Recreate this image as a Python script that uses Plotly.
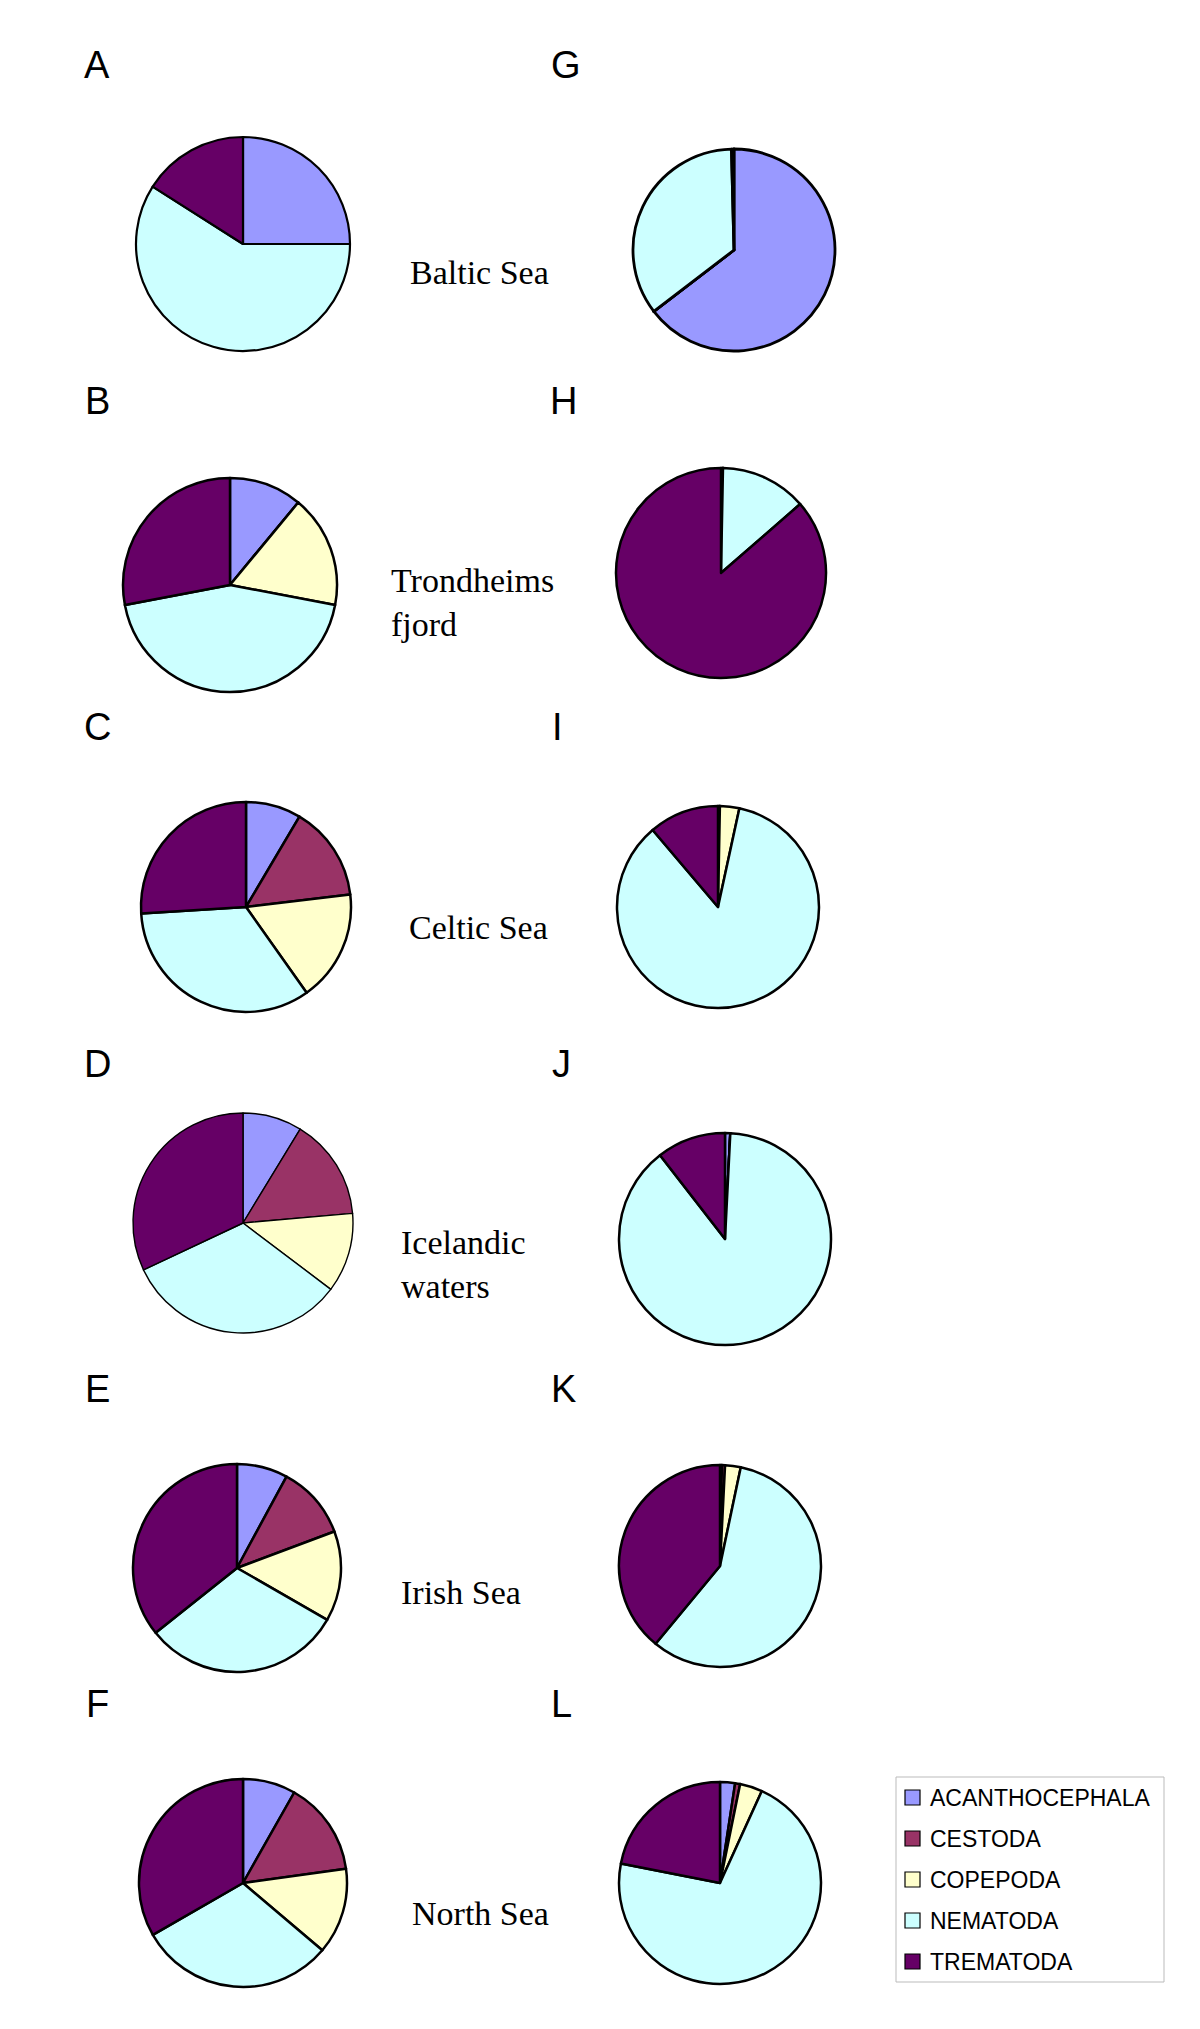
import plotly.graph_objects as go

W, H = 1200, 2029
OFF = 8  # page body margin

categories = ["ACANTHOCEPHALA", "CESTODA", "COPEPODA", "NEMATODA", "TREMATODA"]
colors = ["#9999FF", "#993366", "#FFFFCC", "#CCFFFF", "#660066"]

panel_letters = ["A", "B", "C", "D", "E", "F", "G", "H", "I", "J", "K", "L"]
regions = ["Baltic Sea", "Trondheims<br>fjord", "Celtic Sea", "Icelandic<br>waters", "Irish Sea", "North Sea"]

# percentage composition, clockwise from 12 o'clock, order = categories
A = [25.0, 0.0, 0.0, 59.0, 16.0]
B = [11.0, 0.0, 17.0, 44.0, 28.0]
C = [8.5, 14.6, 17.1, 33.8, 26.0]
D = [8.7, 14.9, 11.7, 32.7, 32.0]
E = [7.9, 11.4, 14.0, 31.0, 35.7]
F = [8.2, 14.6, 13.4, 30.5, 33.3]
G = [64.6, 0.0, 0.0, 35.0, 0.4]
Hh = [0.3, 0.0, 0.0, 13.3, 86.4]
I = [0.3, 0.0, 3.1, 85.4, 11.2]
J = [0.8, 0.0, 0.0, 88.7, 10.5]
K = [0.3, 0.5, 2.5, 57.7, 39.0]
L = [2.4, 0.8, 3.6, 71.3, 21.9]

values = [A, B, C, D, E, F, G, Hh, I, J, K, L]

# layout (pixel positions of pie centres, radii, line widths)
centers = [(243, 244), (230, 585), (246, 907), (243, 1223), (237, 1568), (243, 1883),
           (734, 250), (721, 573), (718, 907), (725, 1239), (720, 1566), (720, 1883)]
radii = [107, 107, 105, 110, 104, 104, 101, 105, 101, 106, 101, 101]
lws = [2.2, 2.5, 2.5, 1.4, 2.5, 2.5, 2.8, 2.5, 2.5, 2.5, 2.5, 2.5]
letter_pos = [(97, 65), (97, 401), (97, 727), (97, 1064), (97, 1389), (97, 1704),
              (566, 65), (563, 401), (557, 727), (561, 1064), (563, 1389), (561, 1704)]
region_pos = [(408, 272), (389, 602), (407, 927), (399, 1264), (399, 1592), (410, 1913)]


def px(x):
    return (x - OFF) / W


def py(y):
    return 1 - (y - OFF) / H


fig = go.Figure()
for v, (cx, cy), r, lw in zip(values, centers, radii, lws):
    fig.add_trace(go.Pie(
        labels=categories, values=v, sort=False, direction="clockwise", rotation=0,
        marker=dict(colors=colors, line=dict(color="black", width=lw)),
        textinfo="none", hoverinfo="label+percent", showlegend=False,
        domain=dict(x=[px(cx - r), px(cx + r)], y=[py(cy + r), py(cy - r)]),
    ))

ann = []
for t, (x, y) in zip(panel_letters, letter_pos):
    ann.append(dict(x=px(x), y=py(y), xref="paper", yref="paper", text=t, showarrow=False,
                    xanchor="center", yanchor="middle",
                    font=dict(family="Liberation Sans, Arial", size=38, color="black")))
for t, (x, y) in zip(regions, region_pos):
    ann.append(dict(x=px(x), y=py(y), xref="paper", yref="paper", text=t, showarrow=False,
                    xanchor="left", yanchor="middle", align="left",
                    font=dict(family="Liberation Serif, Times New Roman", size=34, color="black")))

# legend (drawn manually)
shapes = [dict(type="rect", xref="paper", yref="paper", x0=px(896), x1=px(1164),
               y0=py(1982), y1=py(1777), line=dict(color="#BBBBBB", width=1), fillcolor="white")]
leg_y = [1798, 1839, 1880, 1921, 1962]
for cat, col, y in zip(categories, colors, leg_y):
    shapes.append(dict(type="rect", xref="paper", yref="paper", x0=px(905), x1=px(920),
                       y0=py(y + 7), y1=py(y - 8), line=dict(color="black", width=1.2),
                       fillcolor=col))
    ann.append(dict(x=px(928), y=py(y), xref="paper", yref="paper", text=cat, showarrow=False,
                    xanchor="left", yanchor="middle",
                    font=dict(family="Liberation Sans, Arial", size=23, color="black")))

fig.update_layout(width=W, height=H, margin=dict(l=0, r=0, t=0, b=0),
                  paper_bgcolor="white", plot_bgcolor="white",
                  annotations=ann, shapes=shapes, showlegend=False)
fig.write_html("out.html")
